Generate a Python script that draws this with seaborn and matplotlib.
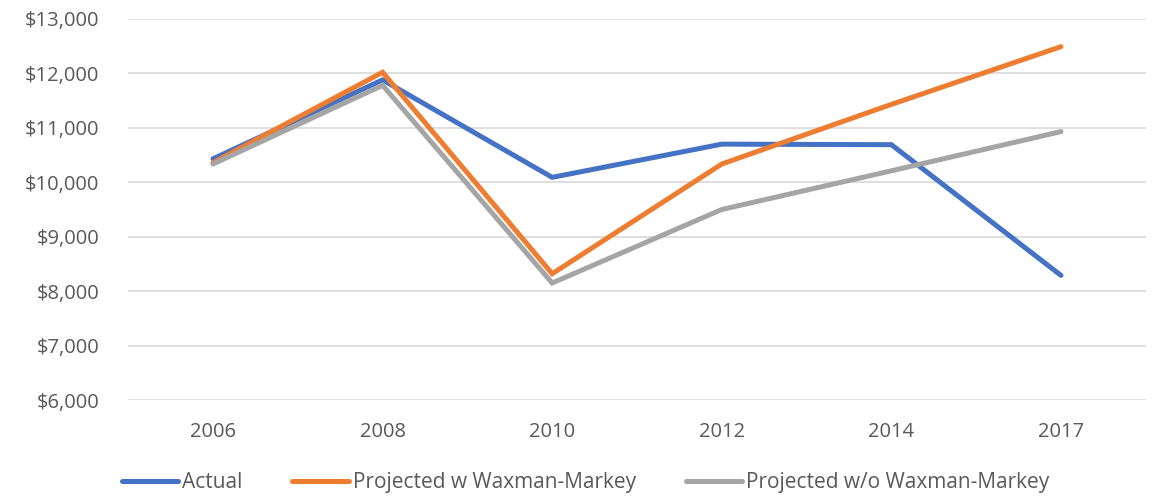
import pandas as pd
import matplotlib.pyplot as plt
import matplotlib.ticker as mticker
import seaborn as sns

years = ['2006', '2008', '2010', '2012', '2014', '2017']
actual = [10430, 11880, 10090, 10700, 10690, 8290]
proj_w = [10360, 12020, 8320, 10335, 11430, 12490]
proj_wo = [10335, 11780, 8150, 9500, 10210, 10930]

series_names = ['Actual', 'Projected w Waxman-Markey', 'Projected w/o Waxman-Markey']
colores = ['#4472C4', '#ED7D31', '#A5A5A5']

# tabla larga para seaborn
df = pd.DataFrame({
    'Año': years * 3,
    'Valor': actual + proj_w + proj_wo,
    'Serie': [series_names[0]] * 6 + [series_names[1]] * 6 + [series_names[2]] * 6,
})

sns.set_style('white')
plt.rcParams['font.family'] = ['Open Sans', 'DejaVu Sans']

fig = plt.figure(figsize=(11.55, 4.97), dpi=100)
ax = fig.add_axes([0.111, 0.195, 0.881, 0.767])

sns.lineplot(data=df, x='Año', y='Valor', hue='Serie', palette=colores,
             linewidth=3.6, sort=False, ax=ax, legend=False,
             solid_capstyle='round', solid_joinstyle='miter')

ax.set_xlim(-0.5, 5.5)
ax.set_ylim(6000, 13000)
ax.yaxis.set_major_locator(mticker.MultipleLocator(1000))
ax.yaxis.set_major_formatter(mticker.FuncFormatter(lambda v, p: f'${v:,.0f}'))
ax.grid(axis='y', color='#D9D9D9', linewidth=1.2)
ax.set_axisbelow(True)
for s in ax.spines.values():
    s.set_visible(False)
ax.tick_params(axis='both', length=0, labelsize=14.5, labelcolor='#595959')
ax.tick_params(axis='y', pad=21)
ax.tick_params(axis='x', pad=16)
ax.set_xlabel('')
ax.set_ylabel('')

handles = [plt.Line2D([], [], color=c, linewidth=3.6, solid_capstyle='round') for c in colores]
fig.legend(handles, series_names, loc='lower center', bbox_to_anchor=(0.507, -0.03),
           ncol=3, frameon=False, fontsize=15, labelcolor='#595959',
           handlelength=2.7, handletextpad=0.2, columnspacing=2.4)

plt.savefig('out.png', dpi=100)
